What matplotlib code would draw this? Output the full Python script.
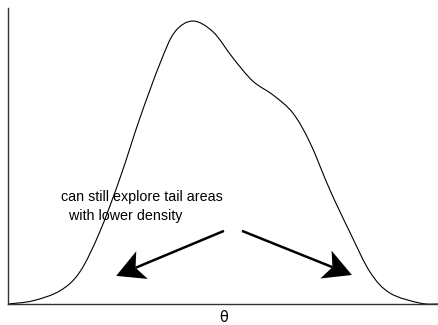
import numpy as np
import matplotlib
matplotlib.use("Agg")
import matplotlib.pyplot as plt
from matplotlib.path import Path
from matplotlib.patches import PathPatch, Polygon

# density curve read as (theta, density) pairs
theta = [0.00, 0.58, 1.21, 1.67, 2.13, 2.60, 3.06, 3.53, 3.87, 4.29, 4.76,
         5.22, 5.68, 6.15, 6.61, 7.01, 7.47, 7.94, 8.40, 8.86, 9.56, 10.0]
density = [0.000, 0.011, 0.045, 0.109, 0.244, 0.426, 0.628, 0.814, 0.919,
           0.956, 0.919, 0.831, 0.753, 0.706, 0.645, 0.544, 0.385, 0.240,
           0.108, 0.037, 0.003, 0.000]

note = "can still explore tail areas\n  with lower density"
arrow_from = [(5.01, 0.247), (5.43, 0.247)]
arrow_to = [(2.51, 0.095), (7.98, 0.098)]


def smooth_path(xs, ys):
    # catmull-rom through the points, written as cubic bezier segments
    pts = np.column_stack([xs, ys])
    verts = [pts[0]]
    codes = [Path.MOVETO]
    n = len(pts)
    for i in range(n - 1):
        p0 = pts[max(i - 1, 0)]
        p1 = pts[i]
        p2 = pts[i + 1]
        p3 = pts[min(i + 2, n - 1)]
        c1 = p1 + (p2 - p0) / 6.0
        c2 = p2 - (p3 - p1) / 6.0
        verts += [c1, c2, p2]
        codes += [Path.CURVE4] * 3
    return Path(verts, codes)


def stealth_arrow(ax, start, end, length=28, half_width=15, notch=21, lw=1.8):
    # shaft plus a notched head, built in pixel space so the head keeps its shape
    a = ax.transData.transform(start)
    b = ax.transData.transform(end)
    u = (b - a) / np.hypot(*(b - a))
    n = np.array([-u[1], u[0]])
    back = b - u * length
    head = [b, back + n * half_width, b - u * notch, back - n * half_width]
    neck = ax.transData.inverted().transform(b - u * notch)
    ax.plot([start[0], neck[0]], [start[1], neck[1]], color='black',
            linewidth=lw, solid_capstyle='butt')
    ax.add_patch(Polygon(head, closed=True, facecolor='black',
                         edgecolor='none', transform=None))


plt.rcParams['font.family'] = ['Liberation Sans', 'DejaVu Sans']

fig = plt.figure(figsize=(4.39, 3.25), dpi=100)
ax = fig.add_axes([8 / 439, 21 / 325, 431 / 439, 296 / 325])
ax.set_xlim(0, 10)
ax.set_ylim(0, 1)

ax.add_patch(PathPatch(smooth_path(theta, density), fill=False,
                       edgecolor='black', linewidth=0.8))

ax.text(1.23, 0.33, note, fontsize=10.3, ha='left', va='center',
        linespacing=1.45)

for start, end in zip(arrow_from, arrow_to):
    stealth_arrow(ax, start, end)

ax.set_xticks([])
ax.set_yticks([])
for side in ['top', 'right']:
    ax.spines[side].set_visible(False)
for side in ['left', 'bottom']:
    ax.spines[side].set_color('#333333')
    ax.spines[side].set_linewidth(1.0)
ax.set_xlabel("θ", fontsize=10.5, labelpad=4, family=['DejaVu Sans'])

fig.savefig("out.png", dpi=100)
